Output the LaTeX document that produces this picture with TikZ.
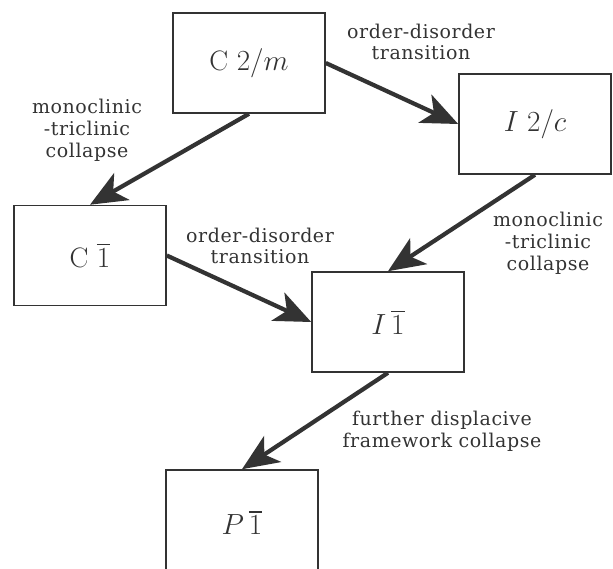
\documentclass[tikz,border=0pt]{standalone}
\usepackage{amsmath, amssymb}
\usepackage{fontspec}
\newfontfamily\labelfont[LetterSpace=3]{DejaVu Serif}
\usetikzlibrary{arrows.meta}
\definecolor{ink}{HTML}{333333}

\tikzset{
  box/.style={draw=ink, line width=1.1pt, minimum width=3.8cm, minimum height=2.5cm,
    text=ink, font=\fontsize{20}{24}\selectfont},
  lab/.style={align=center, text=ink, font=\labelfont\fontsize{13.5}{15.5}\selectfont},
  arr/.style={draw=ink, line width=3pt, -{Stealth[length=26pt,width=22pt,inset=7pt]}}
}

\begin{document}
\begin{tikzpicture}[x=0.025cm,y=-0.025cm]
\useasboundingbox (0,0) rectangle (613,568);
\node[box] (c2m)at(249,63){C~$2/m$};
\node[box] (i2c)at(535,124){$I~2/c$};
\node[box] (c1)at(90,255.5){C~$\overline{1}$};
\node[box] (i1)at(388,322){$I\,\overline{1}$};
\node[box,minimum height=2.625cm] (p1)at(242,522.5){$P\,\overline{1}$};
\draw[arr] (c2m.east) to (i2c.west);
\draw[arr] (c2m.south) to (c1.north);
\draw[arr] (i2c.south) to (i1.north);
\draw[arr] (c1.east) to (i1.west);
\draw[arr] (i1.south) to (p1.north);
\node[lab] (t1)at(421,42) {order-disorder\\transition};
\node[lab] (t2)at(87,130) {monoclinic\\-triclinic\\collapse};
\node[lab] (t3)at(260,246) {order-disorder\\transition};
\node[lab] (t4)at(548,243) {monoclinic\\-triclinic\\collapse};
\node[lab] (t5)at(442,431) {further displacive\\framework collapse};
\end{tikzpicture}
\end{document}
